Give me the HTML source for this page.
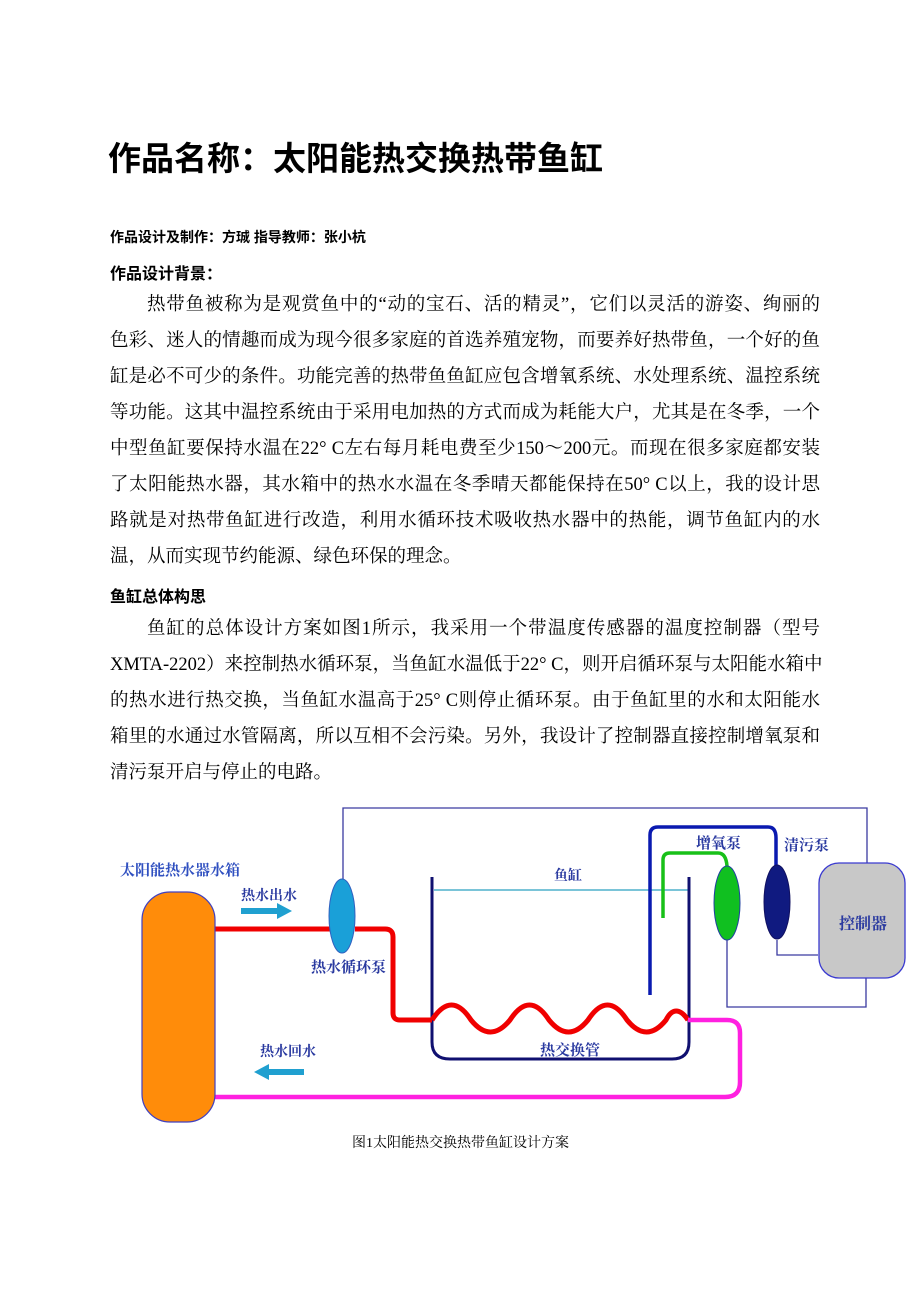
<!DOCTYPE html>
<html><head><meta charset="utf-8"><style>
body{margin:0;background:#fff;width:920px;height:1302px;position:relative;font-family:"Liberation Serif","Noto Serif CJK SC",serif;color:#000;overflow:hidden}
.a{position:absolute;white-space:nowrap}
.h{font-family:"Liberation Sans","Noto Sans CJK SC",sans-serif;font-weight:bold}
.p{position:absolute;left:110px;width:710px;font-size:18.5px;text-align:justify;text-align-last:justify;white-space:nowrap;line-height:24px}
.p.l{text-align-last:left}
</style></head><body>
<div class="a h" style="left:108px;top:132px;font-size:33px;letter-spacing:0px">作品名称：太阳能热交换热带鱼缸</div>
<div class="a h" style="left:110px;top:227px;font-size:14px">作品设计及制作：方珹 指导教师：张小杭</div>
<div class="a h" style="left:110px;top:260px;font-size:16px">作品设计背景：</div>
<div class="p" style="top:293px;left:147px;width:673px">热带鱼被称为是观赏鱼中的“动的宝石、活的精灵”，它们以灵活的游姿、绚丽的</div>
<div class="p" style="top:329px">色彩、迷人的情趣而成为现今很多家庭的首选养殖宠物，而要养好热带鱼，一个好的鱼</div>
<div class="p" style="top:365px">缸是必不可少的条件。功能完善的热带鱼鱼缸应包含增氧系统、水处理系统、温控系统</div>
<div class="p" style="top:401px">等功能。这其中温控系统由于采用电加热的方式而成为耗能大户，尤其是在冬季，一个</div>
<div class="p" style="top:437px">中型鱼缸要保持水温在22° C左右每月耗电费至少150～200元。而现在很多家庭都安装</div>
<div class="p" style="top:473px">了太阳能热水器，其水箱中的热水水温在冬季晴天都能保持在50° C以上，我的设计思</div>
<div class="p" style="top:509px">路就是对热带鱼缸进行改造，利用水循环技术吸收热水器中的热能，调节鱼缸内的水</div>
<div class="p l" style="top:545px">温，从而实现节约能源、绿色环保的理念。</div>
<div class="a h" style="left:110px;top:583px;font-size:16px">鱼缸总体构思</div>
<div class="p" style="top:617px;left:147px;width:673px">鱼缸的总体设计方案如图1所示，我采用一个带温度传感器的温度控制器（型号</div>
<div class="p" style="top:653px">XMTA-2202）来控制热水循环泵，当鱼缸水温低于22° C，则开启循环泵与太阳能水箱中</div>
<div class="p" style="top:689px">的热水进行热交换，当鱼缸水温高于25° C则停止循环泵。由于鱼缸里的水和太阳能水</div>
<div class="p" style="top:725px">箱里的水通过水管隔离，所以互相不会污染。另外，我设计了控制器直接控制增氧泵和</div>
<div class="p l" style="top:761px">清污泵开启与停止的电路。</div>

<svg class="a" style="left:0;top:0" width="920" height="1302">
<g fill="none" stroke="#3a3aa0" stroke-width="1.3">
<path d="M343 880 V808 H867 V863"/>
<path d="M727 940 V1007 H866 V978"/>
<path d="M777 940 V955 H818"/>
</g>
<line x1="434" y1="890" x2="688" y2="890" stroke="#2aa0c0" stroke-width="1.2"/>
<path d="M432 877 V1042 Q432 1059 450 1059 H672 Q689 1059 689 1042 V877" fill="none" stroke="#101070" stroke-width="3"/>
<path d="M650 995 V835 Q650 827 658 827 H768 Q776 827 776 838 V866" fill="none" stroke="#0a1ab0" stroke-width="3.5"/>
<path d="M663 918 V860 Q663 853 670 853 H718 Q726 853 727 866" fill="none" stroke="#18c018" stroke-width="3.5"/>
<path d="M215 929 H330 M355 929 H385 Q393 929 393 937 V1013 Q393 1020 400 1020 H432" fill="none" stroke="#f00000" stroke-width="5"/>
<path d="M432 1020 C445 1000 458 1000 471 1020 C484 1036 497 1036 510 1020 C523 1000 536 1000 549 1020 C562 1036 575 1036 588 1020 C601 1000 614 1000 627 1020 C640 1036 653 1036 666 1020 C672 1008 680 1008 688 1020" fill="none" stroke="#f00000" stroke-width="5"/>
<path d="M688 1020 H727 Q740 1020 740 1033 V1082 Q740 1097 725 1097 H215" fill="none" stroke="#ff20e0" stroke-width="4.5"/>
<rect x="142" y="892" width="73" height="230" rx="28" fill="#ff8c0a" stroke="#4040c0" stroke-width="1.2"/>
<ellipse cx="342" cy="916" rx="13" ry="37" fill="#1aa0d8" stroke="#3060c0"/>
<ellipse cx="727" cy="903" rx="13" ry="37" fill="#10c020" stroke="#2040a0"/>
<ellipse cx="777" cy="902" rx="13" ry="37" fill="#101a80" stroke="#101060"/>
<rect x="819" y="863" width="86" height="115" rx="20" fill="#c8c8c8" stroke="#3a3ad0" stroke-width="1.3"/>
<path d="M241 908 H277 V903 L292 911 L277 919 V914 H241Z" fill="#20a0d0"/>
<path d="M304 1069 H269 V1064 L254 1072 L269 1080 V1075 H304Z" fill="#20a0d0"/>
<g font-family="'Liberation Serif','Noto Serif CJK SC',serif" font-weight="bold" fill="#2a3aa0" font-size="14">
<text x="120" y="875" font-size="15" fill="#3050c0">太阳能热水器水箱</text>
<text x="241" y="900">热水出水</text>
<text x="311" y="972" font-size="15">热水循环泵</text>
<text x="554" y="880">鱼缸</text>
<text x="540" y="1055" font-size="15">热交换管</text>
<text x="260" y="1056">热水回水</text>
<text x="696" y="848" font-size="15">增氧泵</text>
<text x="784" y="850" font-size="15">清污泵</text>
<text x="839" y="929" font-size="16">控制器</text>
</g>
</svg>
<div class="a" style="left:352px;top:1132px;font-size:14px">图1太阳能热交换热带鱼缸设计方案</div>
</body></html>
